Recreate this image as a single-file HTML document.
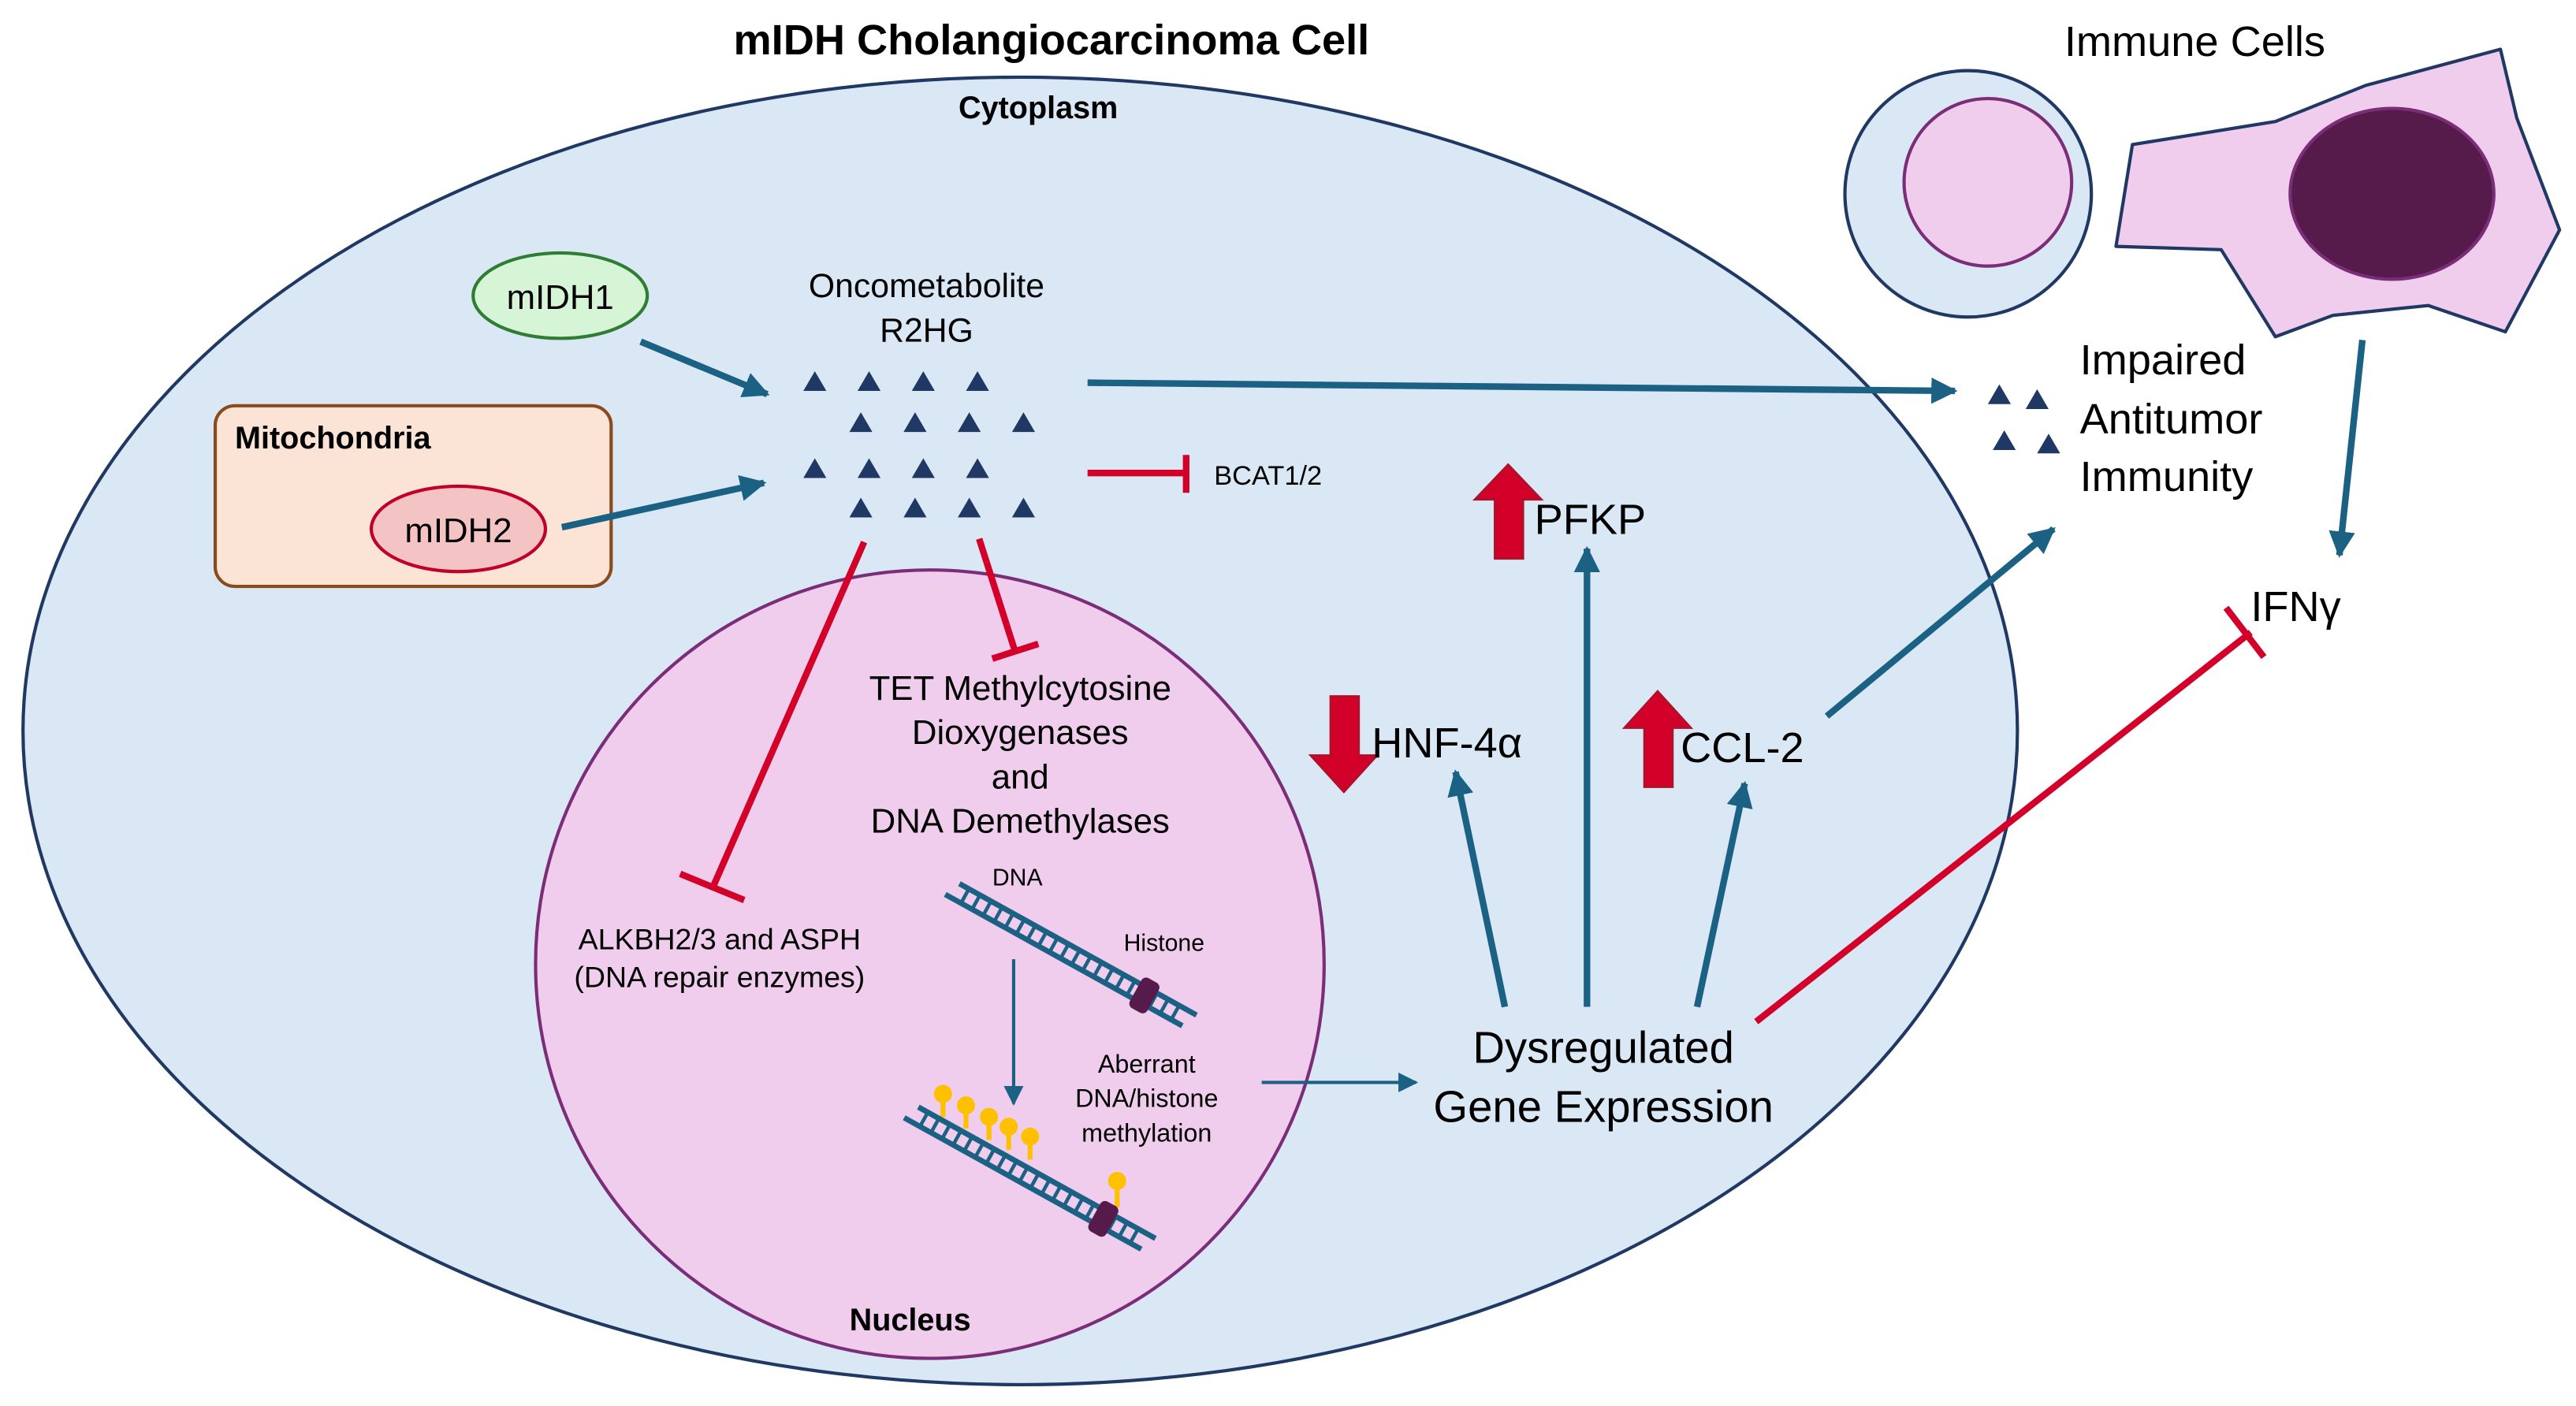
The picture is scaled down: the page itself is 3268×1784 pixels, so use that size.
<!DOCTYPE html>
<html><head><meta charset="utf-8"><style>
html,body{margin:0;padding:0;background:#fff;}
svg{display:block;}
text{font-family:"Liberation Sans",sans-serif;fill:#000;}
</style></head><body>
<svg width="3268" height="1784" viewBox="0 0 1568 856" preserveAspectRatio="none" xmlns="http://www.w3.org/2000/svg">
<defs>
<marker id="ah" viewBox="0 0 10 10" refX="9" refY="5" markerWidth="4" markerHeight="4" orient="auto" markerUnits="strokeWidth"><path d="M0,0 L10,5 L0,10 z" fill="#1b6183"/></marker>
<marker id="ahs" viewBox="0 0 10 10" refX="9" refY="5" markerWidth="6" markerHeight="6" orient="auto" markerUnits="strokeWidth"><path d="M0,0 L10,5 L0,10 z" fill="#1b6183"/></marker>
<g id="tri"><path d="M-7,6 L0,-6 L7,6 z" fill="#1f3864"/></g>
<g id="dna">
<line x1="0" y1="0" x2="150" y2="0" stroke="#1b6183" stroke-width="3"/>
<line x1="-4" y1="9" x2="146" y2="9" stroke="#1b6183" stroke-width="3"/>
<path d="M6,0v9M13,0v9M20,0v9M27,0v9M34,0v9M41,0v9M48,0v9M55,0v9M62,0v9M69,0v9M76,0v9M83,0v9M90,0v9M97,0v9M104,0v9M111,0v9M118,0v9M125,0v9M132,0v9M139,0v9" stroke="#1b6183" stroke-width="2"/>
<rect x="114" y="-5" width="11" height="19" rx="3" fill="#561a4b"/>
</g>
</defs>
<rect width="1568" height="856" fill="#fff"/>
<text x="640" y="33" font-size="26" font-weight="bold" text-anchor="middle">mIDH Cholangiocarcinoma Cell</text>
<ellipse cx="621" cy="445" rx="607" ry="398" fill="#dae8f6" stroke="#1f3864" stroke-width="2"/>
<text x="632" y="72" font-size="19" font-weight="bold" text-anchor="middle">Cytoplasm</text>
<circle cx="566" cy="587" r="240" fill="#f0cced" stroke="#7b2d77" stroke-width="2"/>
<text x="554" y="810" font-size="19" font-weight="bold" text-anchor="middle">Nucleus</text>

<ellipse cx="341" cy="180" rx="53" ry="26" fill="#d6f5d6" stroke="#2e7d32" stroke-width="2"/>
<text x="341" y="188" font-size="21" text-anchor="middle">mIDH1</text>
<rect x="131" y="247" width="241" height="110" rx="12" fill="#fbe3d6" stroke="#8b4a1c" stroke-width="2"/>
<text x="143" y="273" font-size="19" font-weight="bold">Mitochondria</text>
<ellipse cx="279" cy="322" rx="53" ry="26" fill="#f4c4c4" stroke="#c0002a" stroke-width="2"/>
<text x="279" y="330" font-size="21" text-anchor="middle">mIDH2</text>

<text x="564" y="181" font-size="20.5" text-anchor="middle">Oncometabolite</text>
<text x="564" y="208" font-size="20.5" text-anchor="middle">R2HG</text>
<use href="#tri" x="496" y="232"/><use href="#tri" x="529" y="232"/><use href="#tri" x="562" y="232"/><use href="#tri" x="595" y="232"/>
<use href="#tri" x="524" y="257"/><use href="#tri" x="557" y="257"/><use href="#tri" x="590" y="257"/><use href="#tri" x="623" y="257"/>
<use href="#tri" x="496" y="285"/><use href="#tri" x="529" y="285"/><use href="#tri" x="562" y="285"/><use href="#tri" x="595" y="285"/>
<use href="#tri" x="524" y="309"/><use href="#tri" x="557" y="309"/><use href="#tri" x="590" y="309"/><use href="#tri" x="623" y="309"/>

<g stroke="#1b6183" stroke-width="4" fill="none" marker-end="url(#ah)">
<line x1="390" y1="208" x2="467" y2="240"/>
<line x1="342" y1="321" x2="465" y2="294"/>
<line x1="662" y1="233" x2="1190" y2="238"/>
<line x1="916" y1="613" x2="886" y2="470"/>
<line x1="966" y1="613" x2="966" y2="334"/>
<line x1="1033" y1="613" x2="1062" y2="477"/>
<line x1="1112" y1="436" x2="1250" y2="322"/>
<line x1="1438" y1="207" x2="1424" y2="338"/>
</g>
<g stroke="#1b6183" stroke-width="2" fill="none" marker-end="url(#ahs)">
<line x1="617" y1="584" x2="617" y2="672"/>
<line x1="768" y1="659" x2="862" y2="659"/>
</g>

<g stroke="#d3002a" stroke-width="4" fill="none">
<line x1="662" y1="288" x2="722" y2="288"/><line x1="722" y1="277" x2="722" y2="300"/>
<line x1="526" y1="330" x2="434" y2="540"/><line x1="414" y1="532" x2="453" y2="548"/>
<line x1="596" y1="328" x2="618" y2="397"/><line x1="604" y1="401" x2="632" y2="392"/>
<line x1="1069" y1="622" x2="1370" y2="385"/><line x1="1355" y1="370" x2="1378" y2="400"/>
</g>
<text x="739" y="295" font-size="16.5">BCAT1/2</text>

<text x="621" y="426" font-size="21" text-anchor="middle">TET Methylcytosine</text>
<text x="621" y="453" font-size="21" text-anchor="middle">Dioxygenases</text>
<text x="621" y="480" font-size="21" text-anchor="middle">and</text>
<text x="621" y="507" font-size="21" text-anchor="middle">DNA Demethylases</text>
<text x="438" y="578" font-size="18" text-anchor="middle">ALKBH2/3 and ASPH</text>
<text x="438" y="601" font-size="18" text-anchor="middle">(DNA repair enzymes)</text>

<g transform="translate(584,538) rotate(29) scale(1.1)"><use href="#dna"/></g>
<text x="604" y="539" font-size="14.5">DNA</text>
<text x="684" y="579" font-size="14.5">Histone</text>
<g fill="#ffc000" stroke="#ffc000">
<line x1="574" y1="668" x2="574" y2="680" stroke-width="3"/><circle cx="574" cy="666" r="5"/>
<line x1="588" y1="675" x2="588" y2="687" stroke-width="3"/><circle cx="588" cy="673" r="5"/>
<line x1="602" y1="683" x2="602" y2="694" stroke-width="3"/><circle cx="602" cy="680" r="5"/>
<line x1="614" y1="688" x2="614" y2="700" stroke-width="3"/><circle cx="614" cy="686" r="5"/>
<line x1="627" y1="694" x2="627" y2="706" stroke-width="3"/><circle cx="627" cy="692" r="5"/>
<line x1="680" y1="721" x2="680" y2="735" stroke-width="3"/><circle cx="680" cy="719" r="5"/>
</g>
<g transform="translate(559,674) rotate(29) scale(1.1)"><use href="#dna"/></g>
<text x="698" y="653" font-size="15.5" text-anchor="middle">Aberrant</text>
<text x="698" y="674" font-size="15.5" text-anchor="middle">DNA/histone</text>
<text x="698" y="695" font-size="15.5" text-anchor="middle">methylation</text>

<text x="976" y="647" font-size="27" text-anchor="middle">Dysregulated</text>
<text x="976" y="683" font-size="27" text-anchor="middle">Gene Expression</text>

<g fill="#d3002a" stroke="#b0102a" stroke-width="1.5">
<path d="M810,424 h17 v36 h11 l-20,22 l-20,-22 h12 z"/>
<path d="M910,340 h17 v-36 h11 l-20,-21 l-20,21 h12 z"/>
<path d="M1001,479 h17 v-36 h11 l-20,-22 l-20,22 h12 z"/>
</g>
<text x="835" y="461" font-size="26">HNF-4α</text>
<text x="934" y="325" font-size="26">PFKP</text>
<text x="1023" y="464" font-size="26">CCL-2</text>

<use href="#tri" x="1217" y="240"/><use href="#tri" x="1240" y="243"/><use href="#tri" x="1220" y="268"/><use href="#tri" x="1247" y="270"/>
<text x="1266" y="228" font-size="26">Impaired</text>
<text x="1266" y="264" font-size="26">Antitumor</text>
<text x="1266" y="299" font-size="26">Immunity</text>
<text x="1370" y="378" font-size="26">IFNγ</text>
<text x="1336" y="34" font-size="26" text-anchor="middle">Immune Cells</text>

<circle cx="1198" cy="118" r="75" fill="#dae8f6" stroke="#1f3864" stroke-width="2"/>
<circle cx="1210" cy="111" r="51" fill="#f0cced" stroke="#7b2d77" stroke-width="2"/>
<path d="M1298,88 L1385,74 L1440,52 L1522,30 L1532,72 L1558,140 L1525,202 L1478,186 L1420,192 L1385,205 L1352,152 L1288,150 Z" fill="#f0cced" stroke="#1f3864" stroke-width="2" stroke-linejoin="round"/>
<ellipse cx="1456" cy="118" rx="62" ry="52" fill="#561a4b" stroke="#7b2d77" stroke-width="2"/>
</svg>
</body></html>
